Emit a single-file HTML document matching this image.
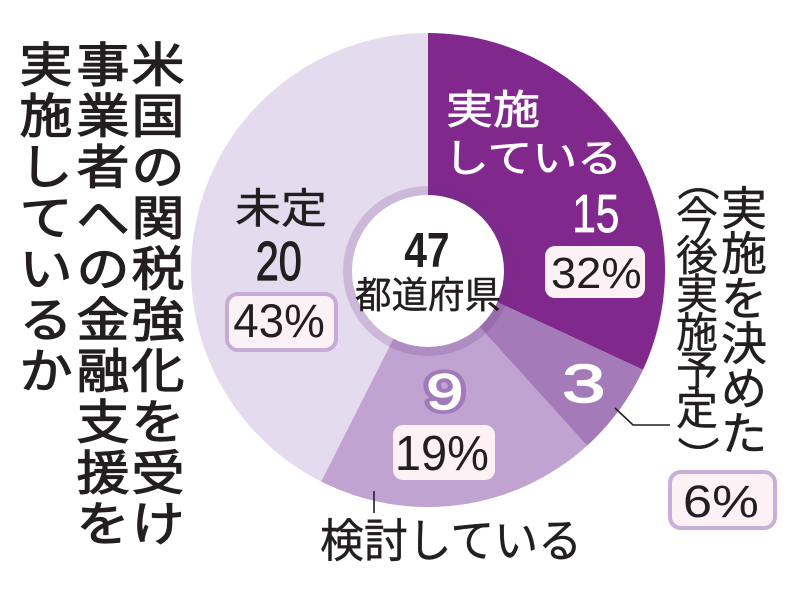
<!DOCTYPE html>
<html>
<head>
<meta charset="utf-8">
<style>
  html, body { margin: 0; padding: 0; background: #fff; }
  body { width: 800px; height: 593px; overflow: hidden; }
  svg { display: block; }
  .f { font-family: "Liberation Sans", "Noto Sans CJK JP", sans-serif; }
</style>
</head>
<body>
<svg width="800" height="593" viewBox="0 0 800 593" xmlns="http://www.w3.org/2000/svg">
  <rect x="0" y="0" width="800" height="593" fill="#ffffff"/>

  <!-- Donut slices -->
  <path d="M428,270 L428,33 A237,237 0 0 1 643.0,369.75 Z" fill="#80288c"/>
  <path d="M428,270 L643.0,369.75 A237,237 0 0 1 587.05,445.70 Z" fill="#a47bb8"/>
  <path d="M428,270 L587.05,445.70 A237,237 0 0 1 321.13,481.54 Z" fill="#c0a3d0"/>
  <path d="M428,270 L321.13,481.54 A237,237 0 0 1 428,33 Z" fill="#e4dbee"/>

  <!-- hole -->
  <circle cx="428" cy="271" r="85" fill="rgba(110,50,140,0.2)"/>
  <circle cx="428" cy="271" r="76" fill="#ffffff"/>

  <!-- leader lines -->
  <polyline points="615,408 633,425 670,425" fill="none" stroke="#231f20" stroke-width="1.6"/>
  <line x1="374" y1="491" x2="374" y2="513" stroke="#231f20" stroke-width="1.6"/>

  <!-- percent boxes -->
  <rect x="545" y="246" width="100" height="52" rx="10" ry="10" fill="#fcf1f5"/>
  <rect x="227" y="294" width="109" height="56" rx="11" ry="11" fill="#fcf1f5" stroke="#c5abd6" stroke-width="4"/>
  <rect x="393" y="425" width="102" height="55" rx="10" ry="10" fill="#fcf1f5"/>
  <rect x="670" y="472" width="105" height="56" rx="11" ry="11" fill="#fcf1f5" stroke="#c8aed8" stroke-width="4"/>

  <!-- Title (vertical, 3 columns) -->
  <g class="f" fill="#231f20" stroke="#231f20" stroke-width="1.3" font-weight="400" font-size="53" text-anchor="middle">
    <text transform="translate(158,82) scale(1,0.9)">米</text>
    <text transform="translate(158,133) scale(1,0.9)">国</text>
    <text transform="translate(158,184) scale(1,0.9)">の</text>
    <text transform="translate(158,235) scale(1,0.9)">関</text>
    <text transform="translate(158,286) scale(1,0.9)">税</text>
    <text transform="translate(158,337) scale(1,0.9)">強</text>
    <text transform="translate(158,388) scale(1,0.9)">化</text>
    <text transform="translate(158,439) scale(1,0.9)">を</text>
    <text transform="translate(158,490) scale(1,0.9)">受</text>
    <text transform="translate(158,541) scale(1,0.9)">け</text>

    <text transform="translate(103,82) scale(1,0.9)">事</text>
    <text transform="translate(103,133) scale(1,0.9)">業</text>
    <text transform="translate(103,184) scale(1,0.9)">者</text>
    <text transform="translate(103,235) scale(1,0.9)">へ</text>
    <text transform="translate(103,286) scale(1,0.9)">の</text>
    <text transform="translate(103,337) scale(1,0.9)">金</text>
    <text transform="translate(103,388) scale(1,0.9)">融</text>
    <text transform="translate(103,439) scale(1,0.9)">支</text>
    <text transform="translate(103,490) scale(1,0.9)">援</text>
    <text transform="translate(103,541) scale(1,0.9)">を</text>

    <text transform="translate(46,82) scale(1,0.9)">実</text>
    <text transform="translate(46,133) scale(1,0.9)">施</text>
    <text transform="translate(46,184) scale(1,0.9)">し</text>
    <text transform="translate(46,235) scale(1,0.9)">て</text>
    <text transform="translate(46,286) scale(1,0.9)">い</text>
    <text transform="translate(46,337) scale(1,0.9)">る</text>
    <text transform="translate(46,388) scale(1,0.9)">か</text>
  </g>

  <!-- Right vertical label -->
  <g class="f" fill="#231f20" font-size="46" text-anchor="middle" stroke="#231f20" stroke-width="0.5">
    <text x="744" y="225">実</text>
    <text x="744" y="270">施</text>
    <text x="744" y="315">を</text>
    <text x="744" y="360">決</text>
    <text x="744" y="405">め</text>
    <text x="744" y="450">た</text>
  </g>
  <g class="f" fill="#231f20" font-size="42" text-anchor="middle" stroke="#231f20" stroke-width="0.4">
    <text transform="translate(697,180) rotate(90)" dominant-baseline="central">（</text>
    <text x="697" y="232">今</text>
    <text x="697" y="270.5">後</text>
    <text x="697" y="309">実</text>
    <text x="697" y="347.5">施</text>
    <text x="697" y="386">予</text>
    <text x="697" y="424.5">定</text>
    <text transform="translate(697,457) rotate(90)" dominant-baseline="central">）</text>
  </g>

  <!-- Purple slice labels -->
  <g class="f" fill="#ffffff">
    <text transform="translate(446,123.5) scale(1,0.85)" font-size="47" textLength="94" lengthAdjust="spacingAndGlyphs" stroke="#ffffff" stroke-width="0.8">実施</text>
    <text transform="translate(444,172) scale(1,0.85)" font-size="46" textLength="178" lengthAdjust="spacingAndGlyphs" stroke="#ffffff" stroke-width="0.8">している</text>
    <text x="572.4" y="232" font-size="54" textLength="47" lengthAdjust="spacingAndGlyphs" stroke="#ffffff" stroke-width="0.8">15</text>
    <text x="562" y="402" font-size="54" textLength="43.5" lengthAdjust="spacingAndGlyphs" stroke="#ffffff" stroke-width="1.4" stroke-linejoin="round">3</text>
    <text x="426.3" y="409" font-size="50" textLength="37" lengthAdjust="spacingAndGlyphs" fill="#a27ab9" stroke="#a27ab9" stroke-width="9" stroke-linejoin="round">9</text>
    <text x="426.3" y="409" font-size="50" textLength="37" lengthAdjust="spacingAndGlyphs" stroke="#ffffff" stroke-width="1.4" stroke-linejoin="round">9</text>
  </g>

  <!-- dark labels -->
  <g class="f" fill="#231f20">
    <text x="551" y="288" font-size="44" textLength="90.6" lengthAdjust="spacingAndGlyphs">32%</text>
    <text x="233.2" y="337" font-size="47" textLength="91.6" lengthAdjust="spacingAndGlyphs">43%</text>
    <text x="394.9" y="470" font-size="49" textLength="94" lengthAdjust="spacingAndGlyphs">19%</text>
    <text x="682.9" y="517" font-size="45" textLength="76" lengthAdjust="spacingAndGlyphs">6%</text>

    <text transform="translate(235,223) scale(1,0.9)" font-size="46" textLength="92" lengthAdjust="spacingAndGlyphs" stroke="#231f20" stroke-width="0.5">未定</text>
    <text x="255.8" y="280" font-size="55" textLength="46" lengthAdjust="spacingAndGlyphs" stroke="#231f20" stroke-width="1.2">20</text>

    <text x="404.2" y="267" font-size="49" font-weight="700" textLength="45.5" lengthAdjust="spacingAndGlyphs">47</text>
    <text x="355" y="308" font-size="37" textLength="146" lengthAdjust="spacingAndGlyphs" stroke="#231f20" stroke-width="0.4">都道府県</text>

    <text x="320" y="557" font-size="46" textLength="262" lengthAdjust="spacingAndGlyphs" stroke="#231f20" stroke-width="0.4">検討している</text>
  </g>
</svg>
</body>
</html>
